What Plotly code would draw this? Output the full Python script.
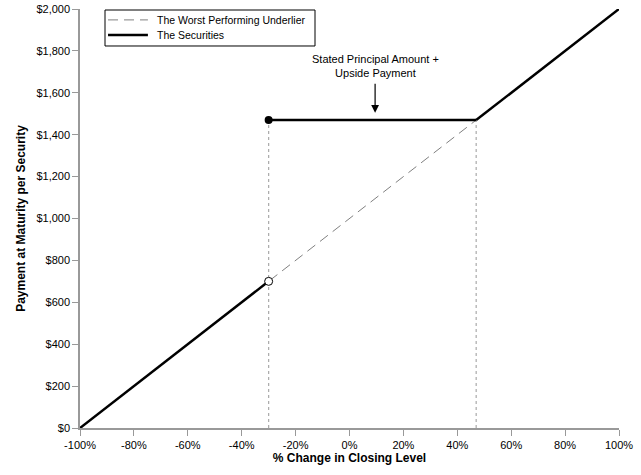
import plotly.graph_objects as go

# payoff diagram values (percent change, payment in $)
underlier_x = [-100, 100]
underlier_y = [0, 2000]

barrier = -30
barrier_payment = 700
cap_level = 47
upside_payment = 1470

down_x = [-100, barrier]
down_y = [0, barrier_payment]
flat_x = [barrier, cap_level]
flat_y = [upside_payment, upside_payment]
up_x = [cap_level, 100]
up_y = [upside_payment, 2000]

x_ticks = list(range(-100, 101, 20))
y_ticks = list(range(0, 2001, 200))

legend_names = ['The Worst Performing Underlier', 'The Securities']

UNDER_LINE = dict(color='#808080', width=1, dash='10px,6px')
SEC_LINE = dict(color='black', width=2.5)

fig = go.Figure()

# dotted guides
for gx in [barrier, cap_level]:
    fig.add_trace(go.Scatter(x=[gx, gx], y=[0, upside_payment], mode='lines',
                             line=dict(color='#aaaaaa', width=1.2, dash='dot'),
                             showlegend=False, hoverinfo='skip'))

fig.add_trace(go.Scatter(x=underlier_x, y=underlier_y, mode='lines',
                         name=legend_names[0], line=UNDER_LINE, showlegend=False))

for xs, ys in [(down_x, down_y), (flat_x, flat_y), (up_x, up_y)]:
    fig.add_trace(go.Scatter(x=xs, y=ys, mode='lines', name=legend_names[1],
                             showlegend=False, line=SEC_LINE))

fig.add_trace(go.Scatter(x=[barrier], y=[upside_payment], mode='markers', showlegend=False,
                         marker=dict(color='black', size=8)))
fig.add_trace(go.Scatter(x=[barrier], y=[barrier_payment], mode='markers', showlegend=False,
                         marker=dict(color='white', size=8, line=dict(color='black', width=1))))

fig.add_annotation(x=9.5, y=1505, ax=9.5, ay=1650, axref='x', ayref='y',
                   text='', showarrow=True, arrowhead=2, arrowsize=1.3, arrowwidth=1.2,
                   arrowcolor='black')
fig.add_annotation(x=9.5, y=1730, text='Stated Principal Amount +<br>Upside Payment',
                   showarrow=False, font=dict(size=11, color='black'), yanchor='middle')

# legend box drawn by hand (plotly's own legend rows are too tall)
fig.add_shape(type='rect', xref='paper', yref='paper', x0=0.0464, x1=0.436,
              y0=0.9117, y1=0.9976, line=dict(color='black', width=1), fillcolor='white')
for row_y, name, ln in [(0.974, legend_names[0], UNDER_LINE), (0.938, legend_names[1], SEC_LINE)]:
    fig.add_shape(type='line', xref='paper', yref='paper', x0=0.052, x1=0.126,
                  y0=row_y, y1=row_y, line=ln)
    fig.add_annotation(xref='paper', yref='paper', x=0.140, y=row_y, text=name,
                       showarrow=False, xanchor='left', yanchor='middle',
                       font=dict(size=10.5, color='black'))

fig.update_layout(
    width=641, height=475,
    margin=dict(l=80, r=22, t=9, b=47, autoexpand=False),
    plot_bgcolor='white', paper_bgcolor='white',
    font=dict(family='Liberation Sans, Arial', size=11, color='black'),
    showlegend=False,
    xaxis=dict(range=[-100, 100], tickvals=x_ticks,
               ticktext=[f'{v}%' for v in x_ticks], automargin=False,
               showgrid=False, zeroline=False, showline=True, linecolor='#999999',
               linewidth=1.5, ticks='outside', tickcolor='#999999', ticklen=6,
               title=dict(text='<b>% Change in Closing Level</b>', font=dict(size=12), standoff=4)),
    yaxis=dict(range=[0, 2000], tickvals=y_ticks,
               ticktext=[f'${v:,}' for v in y_ticks], automargin=False,
               showgrid=False, zeroline=False, showline=True, linecolor='#999999',
               linewidth=1.5, ticks='outside', tickcolor='#999999', ticklen=6,
               title=dict(text='<b>Payment at Maturity per Security</b>', font=dict(size=12), standoff=8)),
)

fig.write_html("out.html", config={'displayModeBar': False},
               post_script="document.body.style.margin='0';")
